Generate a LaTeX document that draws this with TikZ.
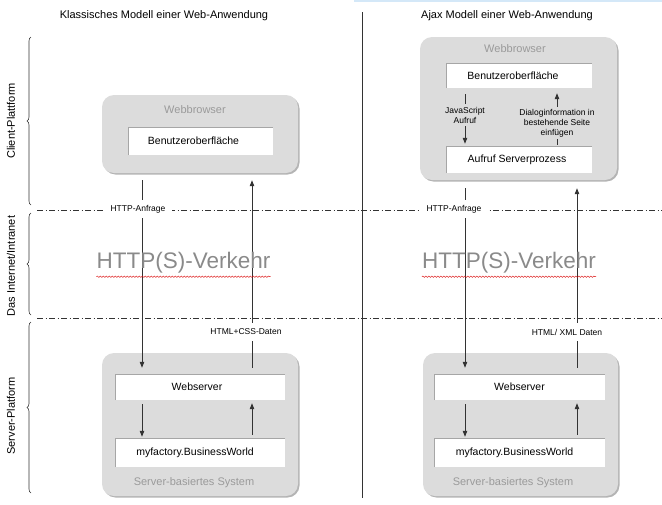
\documentclass[tikz,border=0pt]{standalone}
\usepackage{fontspec}
\setmainfont{Liberation Sans}
\usetikzlibrary{arrows.meta,decorations.pathreplacing,decorations.pathmorphing,calc}
\definecolor{boxgray}{HTML}{DCDCDC}
\definecolor{shadowgray}{HTML}{B4B4B4}
\definecolor{lightgraytext}{HTML}{9A9A9A}
\definecolor{biggray}{HTML}{8A8A8A}
\definecolor{linegray}{HTML}{333333}
\definecolor{topblue}{HTML}{D4E8F8}
\tikzset{
  outerbox/.style={draw=none, fill=boxgray, rounded corners=12pt, inner sep=0pt,
    preaction={fill=shadowgray, transform canvas={xshift=1.5pt,yshift=-1.5pt}}},
  whitebox/.style={fill=white, draw=none, inner sep=0pt, font=\fontsize{10.5}{12}\selectfont},
  graylabel/.style={text=lightgraytext, font=\fontsize{11}{13}\selectfont, inner sep=0pt},
  smalllabel/.style={font=\fontsize{8.5}{10}\selectfont, inner sep=1pt, align=center},
  arr/.style={draw=linegray, line width=0.8pt, -{Triangle[width=4.5pt,length=6pt]}},
  dashdot/.style={draw=linegray, line width=0.6pt, dash pattern=on 6pt off 2.5pt on 1pt off 2.5pt},
  sidelabel/.style={rotate=90, font=\fontsize{11}{13}\selectfont, inner sep=0pt},
  bigtext/.style={text=biggray, font=\fontsize{22.5}{26}\selectfont, inner sep=0pt},
  bracestyle/.style={draw=linegray, line width=0.6pt, decorate, decoration={brace, amplitude=4pt}},
  squiggle/.style={draw=red!85!black, line width=0.4pt, decorate, decoration={snake, amplitude=0.7pt, segment length=3pt}},
}
\newcommand{\insetlines}[1]{%
  \draw[draw=gray!70, line width=0.6pt] (#1.south west) -- (#1.north west) -- (#1.north east);}
\begin{document}
\begin{tikzpicture}[x=1pt,y=-1pt]
\useasboundingbox (0,0) rectangle (662,504);
\fill[topblue] (354,0) rectangle (662,2);

% titles
\node[font=\fontsize{11}{13}\selectfont, inner sep=0pt] (t1) at (164,16) {Klassisches Modell einer Web-Anwendung};
\node[font=\fontsize{11}{13}\selectfont, inner sep=0pt] (t2) at (507,16) {Ajax Modell einer Web-Anwendung};

% center divider
\coordinate (vtop) at (362,12);
\coordinate (vbot) at (362,498);
\draw[draw=linegray, line width=0.8pt] (vtop) -- (vbot);

% dash-dot separators
\coordinate (d1a) at (37,210);
\coordinate (d1b) at (662,210);
\coordinate (d2a) at (37,318);
\coordinate (d2b) at (662,318);
\draw[dashdot] (d1a) -- (d1b);
\draw[dashdot] (d2a) -- (d2b);

% braces and side labels
\coordinate (b1t) at (31,37);  \coordinate (b1b) at (31,205);
\coordinate (b2t) at (31,213); \coordinate (b2b) at (31,315);
\coordinate (b3t) at (31,322); \coordinate (b3b) at (31,493);
\draw[bracestyle] (b1b) -- (b1t);
\draw[bracestyle] (b2b) -- (b2t);
\draw[bracestyle] (b3b) -- (b3t);
\node[sidelabel] (s1) at (11,121) {Client-Plattform};
\node[sidelabel] (s2) at (11,266) {Das Internet/Intranet};
\node[sidelabel] (s3) at (11,416) {Server-Platform};

% ---------------- left: classic model ----------------
\node[outerbox, minimum width=196pt, minimum height=78pt] (lb) at (200,134) {};
\node[graylabel] (lbl) at (195,110) {Webbrowser};
\node[whitebox, minimum width=145pt, minimum height=28pt] (lui) at (200.5,141) {\hspace*{-14pt}Benutzeroberfläche};
\insetlines{lui}

\node[outerbox, minimum width=196pt, minimum height=143pt] (ls) at (200,424.5) {};
\node[whitebox, minimum width=170pt, minimum height=26pt] (lws) at (200,387) {\hspace*{-6pt}Webserver};
\node[whitebox, minimum width=170pt, minimum height=29pt] (lmf) at (200,452.5) {\hspace*{-10pt}myfactory.BusinessWorld};
\insetlines{lws}
\insetlines{lmf}
\node[graylabel] (lsl) at (194,483) {Server-basiertes System};

\coordinate (lx1) at (142,0);
\coordinate (lx2) at (252,0);
\draw[arr, shorten <=7pt, shorten >=6pt] (lx1 |- lb.south) -- (lx1 |- lws.north);
\draw[arr, shorten <=6pt, shorten >=7pt] (lx2 |- lws.north) -- (lx2 |- lb.south);
\draw[arr, shorten <=4pt, shorten >=1pt] (lx1 |- lws.south) -- (lx1 |- lmf.north);
\draw[arr, shorten <=3pt, shorten >=3pt] (lx2 |- lmf.north) -- (lx2 |- lws.south);
\node[smalllabel, fill=white, inner xsep=7pt, inner ysep=5pt] (lhttp) at (138,209) {HTTP-Anfrage};
\node[smalllabel, fill=white, inner xsep=2pt, inner ysep=6pt] (lhtml) at (246,332) {HTML+CSS-Daten};
\node[bigtext] (lv) at (183.5,263) {HTTP(S)-Verkehr};
\draw[squiggle] ($(lv.south west)+(0,3)$) -- ($(lv.south east)+(0,3)$);

% ---------------- right: ajax model ----------------
\node[outerbox, minimum width=197pt, minimum height=143pt] (rb) at (518.5,108.5) {};
\node[graylabel] (rbl) at (515,49) {Webbrowser};
\node[whitebox, minimum width=146pt, minimum height=25pt] (rui) at (519,75.5) {\hspace*{-12pt}Benutzeroberfläche};
\node[whitebox, minimum width=146pt, minimum height=27pt] (rcall) at (519,159.5) {\hspace*{-4pt}Aufruf Serverprozess};
\insetlines{rui}
\insetlines{rcall}

\node[outerbox, minimum width=195pt, minimum height=143pt] (rs) at (520.5,424.5) {};
\node[whitebox, minimum width=171pt, minimum height=26pt] (rws) at (519.5,387) {Webserver};
\node[whitebox, minimum width=171pt, minimum height=29pt] (rmf) at (519.5,452.5) {\hspace*{-10pt}myfactory.BusinessWorld};
\insetlines{rws}
\insetlines{rmf}
\node[graylabel] (rsl) at (513,483) {Server-basiertes System};

\coordinate (rx1) at (465,0);
\coordinate (rx2) at (577,0);
\coordinate (rx3) at (557,0);
\draw[arr, shorten <=6pt, shorten >=2pt] (rx1 |- rui.south) -- (rx1 |- rcall.north);
\draw[arr, shorten <=1pt, shorten >=5pt] (rx3 |- rcall.north) -- (rx3 |- rui.south);
\node[smalllabel, fill=boxgray, inner ysep=3pt] (rjs) at (465,115) {JavaScript\\Aufruf};
\node[smalllabel, fill=boxgray, inner ysep=2pt] (rdlg) at (557,123) {Dialoginformation in\\bestehende Seite\\einfügen};

\draw[arr, shorten <=8pt, shorten >=6pt] (rx1 |- rb.south) -- (rx1 |- rws.north);
\draw[arr, shorten <=6pt, shorten >=8pt] (rx2 |- rws.north) -- (rx2 |- rb.south);
\draw[arr, shorten <=4pt, shorten >=1pt] (rx1 |- rws.south) -- (rx1 |- rmf.north);
\draw[arr, shorten <=3pt, shorten >=3pt] (rx2 |- rmf.north) -- (rx2 |- rws.south);
\node[smalllabel, fill=white, inner xsep=7pt, inner ysep=5pt] (rhttp) at (454,209) {HTTP-Anfrage};
\node[smalllabel, fill=white, inner xsep=2pt, inner ysep=6pt] (rhtml) at (567,332) {HTML/ XML Daten};
\node[bigtext] (rv) at (509,263) {HTTP(S)-Verkehr};
\draw[squiggle] ($(rv.south west)+(0,3)$) -- ($(rv.south east)+(0,3)$);
\end{tikzpicture}
\end{document}
